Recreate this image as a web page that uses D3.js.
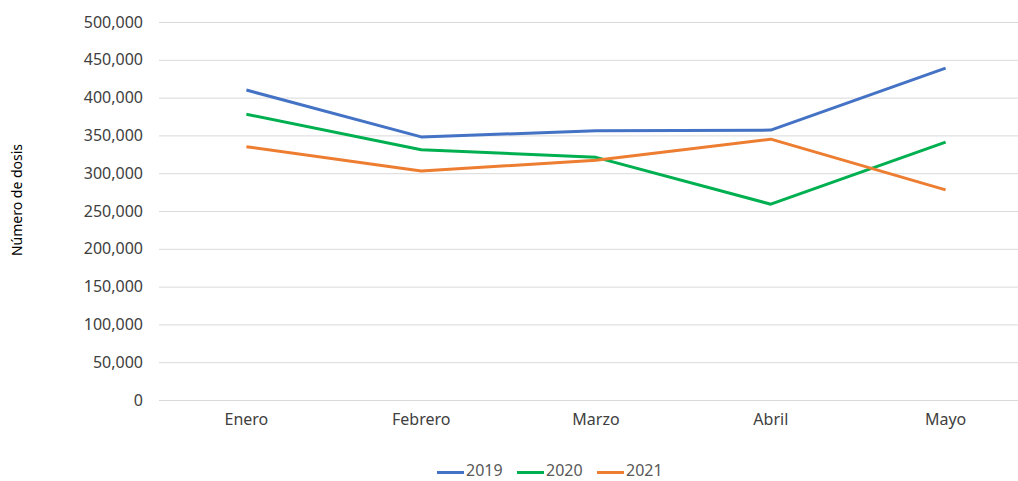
<!DOCTYPE html>
<html>
<head>
<meta charset="utf-8">
<script src="https://cdn.jsdelivr.net/npm/d3@7"></script>
<style>
  body { margin: 0; background: #fff; }
  svg text { font-family: "Noto Sans", sans-serif; }
</style>
</head>
<body>
<div id="chart"></div>
<script>
// chart data
const months = ["Enero", "Febrero", "Marzo", "Abril", "Mayo"];
const years = ["2019", "2020", "2021"];
const doses2019 = [410000, 348000, 356000, 357000, 439000];
const doses2020 = [378000, 331000, 321000, 259000, 341000];
const doses2021 = [335000, 303000, 317000, 345000, 278000];
const yTicks = [0, 50000, 100000, 150000, 200000, 250000, 300000, 350000, 400000, 450000, 500000];
const colors = ["#4472C4", "#00B050", "#ED7D31"];

const seriesList = [doses2019, doses2020, doses2021].map((vals, i) => ({
    year: years[i],
    color: colors[i],
    values: vals.map((v, j) => ({ month: months[j], value: v }))
}));

const width = 1018;
const height = 481;
const margin = { top: 22, right: -15, bottom: 81, left: 159 };
const plotW = width - margin.left - margin.right;
const plotH = height - margin.top - margin.bottom;

const svg = d3.select("#chart")
    .append("svg")
    .attr("width", width)
    .attr("height", height);

const xScale = d3.scaleBand()
    .domain(months)
    .range([0, plotW]);

const yScale = d3.scaleLinear()
    .domain([0, 500000])
    .range([plotH, 0]);

const chart = svg.append("g")
    .attr("transform", `translate(${margin.left},${margin.top})`);

// gridlines + y labels
const yAxis = d3.axisLeft(yScale)
    .tickValues(yTicks)
    .tickSize(-plotW)
    .tickPadding(16)
    .tickFormat(d3.format(","));

chart.append("g")
    .call(yAxis)
    .call(g => g.select(".domain").remove())
    .call(g => g.selectAll(".tick line").attr("stroke", "#d9d9d9").attr("stroke-width", 1))
    .call(g => g.selectAll(".tick text")
        .attr("fill", "#404040")
        .style("font-size", "16px"));

// x labels
const xAxis = d3.axisBottom(xScale).tickSize(0).tickPadding(14);
chart.append("g")
    .attr("transform", `translate(0,${plotH})`)
    .call(xAxis)
    .call(g => g.select(".domain").remove())
    .call(g => g.selectAll(".tick text")
        .attr("fill", "#404040")
        .style("font-size", "16px"));

// lines
const line = d3.line()
    .x(d => xScale(d.month) + xScale.bandwidth() / 2)
    .y(d => yScale(d.value));

chart.selectAll(".series")
    .data(seriesList)
    .enter()
    .append("path")
    .attr("class", "series")
    .attr("fill", "none")
    .attr("stroke", d => d.color)
    .attr("stroke-width", 3)
    .attr("stroke-linejoin", "round")
    .attr("d", d => line(d.values));

// y axis title
svg.append("text")
    .attr("transform", `translate(22,${margin.top + plotH / 2 - 11}) rotate(-90)`)
    .attr("text-anchor", "middle")
    .attr("fill", "#000")
    .style("font-size", "14px")
    .text("Número de dosis");

// legend
const legendX = [437, 517, 597];
const legend = svg.append("g").attr("transform", "translate(0,471)");
seriesList.forEach((s, i) => {
    legend.append("line")
        .attr("x1", legendX[i])
        .attr("x2", legendX[i] + 27)
        .attr("y1", 1.5)
        .attr("y2", 1.5)
        .attr("stroke", s.color)
        .attr("stroke-width", 3);
    legend.append("text")
        .attr("x", legendX[i] + 29)
        .attr("y", 0)
        .attr("dy", "0.3em")
        .attr("fill", "#595959")
        .style("font-size", "16px")
        .text(s.year);
});
</script>
</body>
</html>
